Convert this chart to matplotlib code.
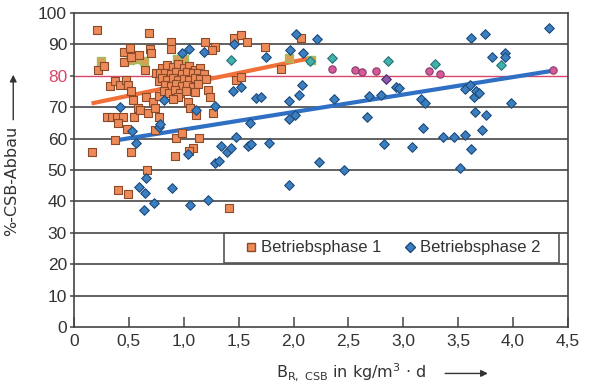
import matplotlib.pyplot as plt
import numpy as np
from matplotlib.patches import Rectangle
from matplotlib.lines import Line2D

plt.rcParams['font.family'] = ['Liberation Sans', 'DejaVu Sans']
plt.rcParams['mathtext.fontset'] = 'custom'
plt.rcParams['mathtext.rm'] = 'DejaVu Sans'

# Betriebsphase 1 (orange squares)
p1_x = [0.21, 0.68, 0.16, 0.22, 0.27, 0.46, 0.51, 0.69, 0.46, 0.52, 0.59, 0.70, 0.65,
        0.33, 0.37, 0.42, 0.47, 0.49, 0.52,
        0.30, 0.35, 0.39, 0.45, 0.40,
        0.54, 0.58, 0.545, 0.60, 0.66, 0.675, 0.72, 0.74, 0.77, 0.77,
        0.485, 0.735, 0.37, 0.515, 0.665, 0.40, 0.49,
        0.92, 0.925, 0.98, 1.085, 1.05, 1.14, 1.41,
        0.88, 0.88, 1.19, 1.28, 1.26, 1.46, 1.52, 1.58, 1.74, 1.89, 2.07,
        1.48, 1.52, 1.22, 1.24, 1.04, 1.06, 1.115, 1.27,
        0.75, 0.77, 0.82,
        0.80, 0.85, 0.90, 0.95, 1.00, 1.05, 1.10, 1.15,
        0.78, 0.83, 0.88, 0.93, 0.98, 1.03, 1.08, 1.13, 1.18,
        0.80, 0.85, 0.90, 0.95, 1.00, 1.05, 1.10, 1.15, 1.20,
        0.83, 0.88, 0.93, 0.98, 1.03, 1.08, 1.13,
        0.82, 0.87, 0.92, 0.97, 1.02, 1.10,
        0.95, 0.90]
p1_y = [94.6, 93.6, 55.6, 82.0, 83.0, 87.7, 88.8, 88.4, 84.5, 86.0, 86.6, 87.1, 81.8,
        76.8, 78.5, 77.0, 78.7, 77.0, 75.3,
        66.8, 66.8, 66.8, 66.8, 64.9,
        72.3, 69.6, 67.0, 69.1, 73.4, 68.3, 71.8, 69.6, 67.0, 73.6,
        63.2, 62.7, 59.6, 55.8, 50.0, 43.6, 42.3,
        54.5, 60.1, 61.9, 56.9, 56.0, 60.3, 38.0,
        90.9, 88.5, 90.9, 89.3, 88.2, 92.1, 93.0, 90.9, 89.3, 82.2, 91.9,
        78.7, 79.5, 75.5, 73.4, 71.8, 69.6, 67.5, 68.0,
        80.8, 78.2, 79.2,
        82.4, 83.5, 82.8, 83.9, 82.5, 83.2, 82.0, 82.6,
        80.8, 81.0, 80.5, 81.2, 80.6, 81.3, 80.8, 81.0, 80.5,
        79.2, 78.8, 79.4, 78.6, 79.1, 78.7, 79.3, 78.9, 79.0,
        77.2, 76.8, 77.4, 76.6, 77.1, 76.5, 77.3,
        75.2, 74.6, 75.4, 74.4, 75.0, 74.8,
        73.2, 72.5]

# olive squares partly hidden behind phase 1
p1b_x = [0.25, 0.51, 0.57, 0.64, 0.94, 1.00, 1.96, 2.16]
p1b_y = [84.8, 85.0, 85.3, 84.6, 85.2, 85.5, 85.7, 85.0]

# Betriebsphase 2 (blue diamonds)
p2_x = [0.42, 0.525, 0.565, 0.77, 0.78, 0.82, 0.655, 0.59, 0.645, 0.64, 0.73, 0.89, 1.06, 1.22,
        0.98, 1.05, 1.18, 1.115, 1.28, 1.04, 1.28, 1.32, 1.34, 1.39, 1.43, 1.48, 1.45, 1.52,
        1.60, 1.585, 1.61, 1.78, 1.46, 1.745, 1.66, 1.70,
        1.96, 1.96, 2.01, 1.96, 2.05, 2.08, 2.02, 1.97, 2.09, 2.215, 2.23, 2.46, 2.37,
        2.67, 2.685, 2.80, 2.93, 2.96, 2.82, 3.08, 3.16, 3.20, 3.18, 3.36, 3.46, 3.56,
        3.62, 3.52, 3.65, 3.75, 3.72, 3.56, 3.61, 3.64, 3.66, 3.69, 3.98, 3.62, 3.74,
        3.81, 3.93, 3.93, 4.33]
p2_y = [70.0, 62.4, 58.5, 63.8, 64.5, 72.3, 47.6, 44.7, 42.8, 37.3, 39.4, 44.2, 38.9, 40.4,
        87.4, 88.4, 87.5, 69.1, 70.4, 55.1, 52.1, 53.0, 57.7, 55.8, 56.9, 60.4, 75.0, 76.3,
        65.0, 57.7, 58.4, 58.5, 90.0, 86.1, 72.8, 73.4,
        45.2, 72.0, 67.5, 66.2, 73.9, 77.0, 93.2, 88.2, 87.4, 91.6, 52.7, 50.0, 72.5,
        67.0, 73.6, 73.9, 76.3, 76.2, 58.4, 57.4, 72.5, 71.2, 63.4, 60.6, 60.4, 61.1,
        56.6, 50.7, 68.4, 67.4, 62.7, 75.8, 77.1, 73.3, 75.2, 74.4, 71.2, 91.9, 93.2,
        85.9, 87.2, 86.1, 95.1]

teal_x = [1.43, 2.15, 2.35, 2.86, 3.29, 3.89]
teal_y = [85.0, 84.8, 85.6, 84.8, 83.7, 83.4]
pink_x = [2.35, 2.56, 2.62, 2.75, 3.23, 3.33, 4.36]
pink_y = [82.2, 82.0, 81.1, 81.4, 81.4, 80.6, 81.8]
violet_x = [2.84]
violet_y = [79.0]

trend1_x = [0.16, 2.15]
trend1_y = [71.2, 85.6]
trend2_x = [0.41, 4.36]
trend2_y = [59.6, 81.6]

xticks = [0, 0.5, 1.0, 1.5, 2.0, 2.5, 3.0, 3.5, 4.0, 4.5]
xlabels = ['0', '0,5', '1,0', '1,5', '2,0', '2,5', '3,0', '3,5', '4,0', '4,5']
yticks = list(range(0, 101, 10))

fig = plt.figure(figsize=(6.02, 3.89), dpi=100)
ax = fig.add_axes([0.1229, 0.1594, 0.8206, 0.8072])
ax.set_xlim(0, 4.5)
ax.set_ylim(0, 100)

for y in yticks[1:-1]:
    if y == 80:
        continue
    ax.axhline(y, color='#555555', lw=1.3, zorder=1)
ax.axhline(80, color='#d9476a', lw=1.0, zorder=1)

# legend box between the 20 and 30 lines
ax.add_patch(Rectangle((1.365, 20.3), 3.05, 9.7, fill=False, ec='#555555', lw=1.2, zorder=1))

ax.plot(trend2_x, trend2_y, color='#2f70c4', lw=3, solid_capstyle='butt', zorder=2)
ax.plot(trend1_x, trend1_y, color='#f07038', lw=3, solid_capstyle='butt', zorder=2)

ax.scatter(p1b_x, p1b_y, marker='s', s=28, c='#d8a050', edgecolors='#9cc060', linewidths=1.0, zorder=3)
ax.scatter(p1_x, p1_y, marker='s', s=28, c='#ec8a5a', edgecolors='#8c4a28', linewidths=0.8, zorder=3)
ax.scatter(p2_x, p2_y, marker='D', s=24, c='#3b7fc0', edgecolors='#1d4a7a', linewidths=0.8, zorder=3)
ax.scatter(teal_x, teal_y, marker='D', s=24, c='#3fb3a8', edgecolors='#2a6e7a', linewidths=0.8, zorder=3)
ax.scatter(pink_x, pink_y, marker='o', s=28, c='#d45a9a', edgecolors='#8a3a6a', linewidths=0.8, zorder=3)
ax.scatter(violet_x, violet_y, marker='D', s=24, c='#8a5aa8', edgecolors='#4a2a6a', linewidths=0.8, zorder=3)

handles = [Line2D([], [], ls='none', marker='s', ms=6, mfc='#ec8a5a', mec='#8c4a28'),
           Line2D([], [], ls='none', marker='D', ms=5, mfc='#3b7fc0', mec='#1d4a7a')]
ax.legend(handles, ['Betriebsphase 1', 'Betriebsphase 2'], loc='center',
          bbox_to_anchor=(2.89, 25.2), bbox_transform=ax.transData, ncol=2,
          frameon=False, fontsize=12, handletextpad=0.1, columnspacing=1.2,
          handlelength=1.0, labelcolor='#333333')

ax.set_xticks(xticks)
ax.set_xticklabels(xlabels)
ax.set_yticks(yticks)
ax.tick_params(axis='x', direction='in', length=7, width=1.2, color='#555555',
               labelsize=12.5, labelcolor='#333333', pad=5)
ax.tick_params(axis='y', direction='out', length=3, width=1.2, color='#555555',
               labelsize=12.5, labelcolor='#333333', pad=2)
ax.get_yticklabels()[8].set_color('#d9476a')
for s in ax.spines.values():
    s.set_color('#444444')
    s.set_linewidth(1.2)

fig.text(0.019, 0.535, '%-CSB-Abbau', rotation=90, ha='center', va='center',
         fontsize=11.5, color='#333333', family='DejaVu Sans')
fig.text(0.583, 0.043, r'$\mathregular{B_{R,\ CSB}}$ in kg/m$\mathregular{^3}$ · d',
         ha='center', va='center', fontsize=11.5, color='#333333', family='DejaVu Sans')
ax.annotate('', xy=(0.022, 0.815), xytext=(0.022, 0.685), xycoords='figure fraction',
            textcoords='figure fraction',
            arrowprops=dict(arrowstyle='-|>', color='#333333', lw=1, mutation_scale=10))
ax.annotate('', xy=(0.815, 0.04), xytext=(0.735, 0.04), xycoords='figure fraction',
            textcoords='figure fraction',
            arrowprops=dict(arrowstyle='-|>', color='#333333', lw=1, mutation_scale=10))

fig.savefig('out.png', dpi=100)
